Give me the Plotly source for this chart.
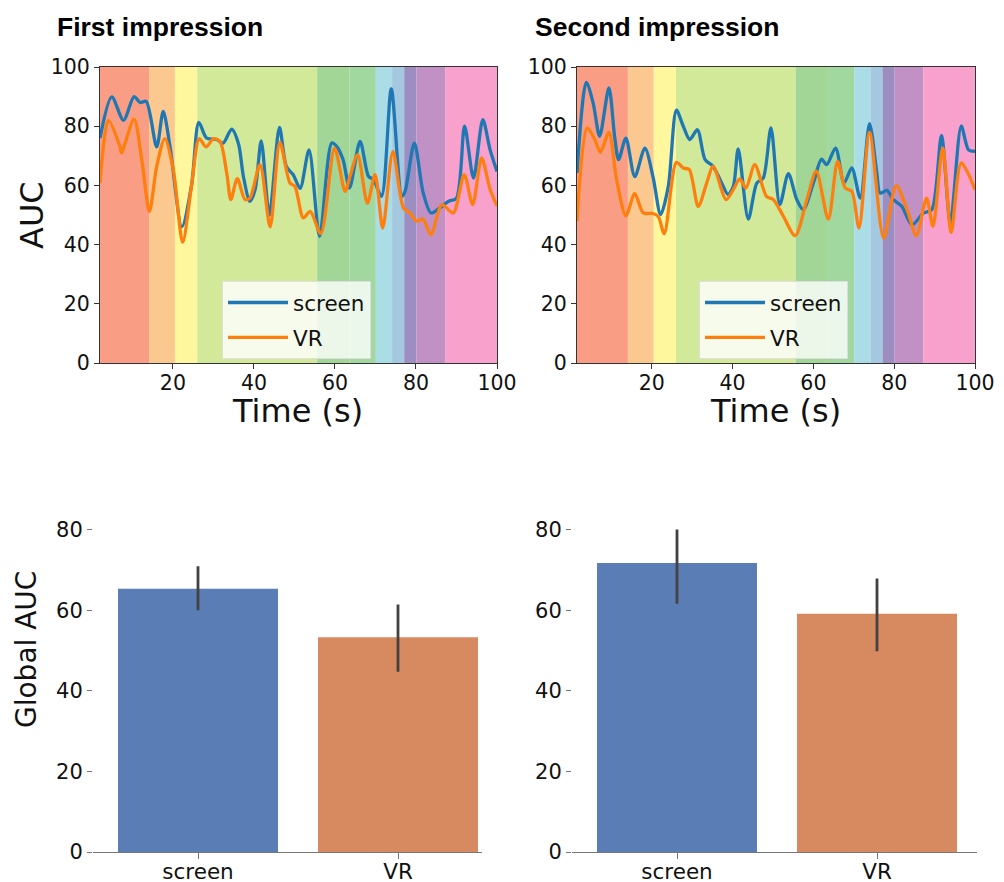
import plotly.graph_objects as go

# ---------------- data ----------------
t1_screen = [2, 4.9, 7.8, 10.4, 11.9, 13.4, 16, 17.6, 19.3, 22.2, 24.6, 26.4, 28.3, 30.8, 32.4, 34.5, 36.2, 37.4, 39, 40.3, 41.8, 43.8, 46.3, 48, 49.7, 51.4, 53.6, 56.2, 59.2, 60.4, 62, 63.6, 66.2, 68.3, 69.5, 71.5, 73.9, 76.5, 77.3, 79.6, 81.8, 83.7, 85.9, 88, 90, 92, 94.2, 96.5, 98.3, 100]
v1_screen = [76, 89.9, 82, 90, 88, 88.4, 73, 85, 73, 46, 60, 81.3, 76, 75.5, 74.3, 79, 74, 63, 54.6, 58.6, 75, 50, 79.6, 66.4, 63.6, 59, 72, 42.8, 74.3, 73.2, 68.7, 59.1, 74.9, 63, 62, 56.3, 92.6, 56.3, 58, 74.3, 57.4, 50.7, 52.4, 54.6, 55.7, 80, 62.5, 82.2, 72, 64.7]
t1_vr = [2, 4.1, 6.9, 7.3, 10.4, 12.3, 14.2, 16, 18, 20.1, 22.4, 24.6, 26.5, 28.2, 30, 31.6, 33.3, 34.3, 35.9, 37.8, 39, 41.5, 44, 46.4, 48.9, 50.1, 52.2, 53.9, 56.5, 59.9, 62.5, 63.7, 65.6, 68, 69.9, 71.8, 74.3, 76.9, 78.5, 80.2, 81.7, 83.7, 86.4, 89.2, 91.9, 94, 96.2, 98.3, 100]
v1_vr = [60.8, 81.9, 73.2, 71, 82.4, 68.7, 51.2, 66.4, 75.8, 65.3, 40.8, 60, 75.8, 73, 75.8, 74.9, 64, 55.2, 62.3, 55.2, 55.7, 67, 46, 74.5, 60.8, 59.7, 49, 51.2, 43.7, 72.6, 58, 63, 70.4, 54, 63.6, 45.6, 71.5, 52.4, 50.7, 47.9, 48.6, 43.4, 53.5, 50.7, 63.6, 53.5, 69.3, 58.6, 53]

t2_screen = [1.5, 3.8, 5.5, 7.1, 9.4, 10.8, 11.8, 13.6, 15.8, 18.3, 20.3, 22.2, 24.1, 26.1, 27.8, 29.4, 31.3, 33.2, 35.2, 37.3, 38.9, 40.2, 41.4, 43.9, 46, 47.6, 49.5, 51.7, 53.8, 55.9, 57.5, 60, 62, 63.3, 65.5, 67.6, 69.5, 71.6, 73.9, 75.7, 76.5, 78.2, 79.8, 81.9, 84.4, 87.3, 89.3, 91.7, 93.9, 96.6, 98.4, 100]
v2_screen = [64.2, 94.8, 87.8, 76.6, 92.9, 76.6, 68.7, 76, 63, 72.6, 63, 50.1, 59.7, 85.4, 80, 75.5, 78.8, 68.7, 66.4, 60.8, 56.9, 59.7, 72.3, 48.6, 60.8, 62.5, 79.4, 53.5, 64, 55.2, 51.8, 60.8, 68.9, 67, 72.6, 60.8, 65.9, 55.7, 80.9, 64.2, 57.4, 58.3, 55.2, 52.9, 46.7, 50.7, 51.8, 76.8, 47.3, 80, 72, 71.5]
t2_vr = [1.5, 4, 5.9, 7.3, 9.4, 11.3, 13.6, 15.8, 17.9, 20.3, 21.6, 23.1, 26.1, 27.8, 29.3, 31.5, 33.6, 35.2, 38.4, 40.2, 41.8, 43.3, 45.5, 48.4, 50.1, 52.6, 55.5, 58.4, 60.7, 63.7, 66, 67.9, 69.5, 71.3, 73.9, 77.4, 80.5, 83.2, 85.5, 88, 89.6, 92, 94.1, 96.6, 100]
v2_vr = [47.9, 79.4, 75.5, 71.2, 77.9, 61.9, 49.8, 57.2, 50.7, 50.5, 49.5, 43.7, 67.8, 65.9, 65.3, 52.9, 60.8, 66.4, 55.2, 58.6, 62.2, 59.1, 67, 56.3, 55.2, 49.5, 43, 55.2, 64.8, 48.6, 68.1, 59.1, 58, 45.6, 77.9, 42.2, 59.9, 51.8, 43, 55.7, 46.2, 72.6, 44.1, 67.6, 58.6]

# scene segments (time boundaries) and their colours
segment_edges = [0, 14.1, 20.5, 26.0, 55.6, 63.6, 70.1, 74.1, 77.1, 80.1, 87.2, 100]
segment_colors = ["#F99D84", "#FBC98F", "#FEF79D", "#D1E999", "#A2D697", "#A0D8A0",
                  "#ABDDE7", "#A4C8E0", "#9D8EC2", "#C190C4", "#F7A1CC"]

conditions = ["screen", "VR"]
global_first = [65.3, 53.3]
global_first_lo = [60.0, 44.7]
global_first_hi = [70.9, 61.4]
global_second = [71.7, 59.1]
global_second_lo = [61.6, 49.8]
global_second_hi = [80.0, 67.9]

bar_colors = ["#5A7DB6", "#D78A5F"]
blue = "#1f77b4"
orange = "#ff7f0e"

W, H = 1004, 882
def px(x):
    return x / W
def py(y):
    return 1 - y / H

fig = go.Figure()

tick_font = dict(family="DejaVu Sans", size=20.5, color="#111")

# ---------------- top line plots ----------------
top = [
    ("x", "y", t1_screen, v1_screen, t1_vr, v1_vr, "legend", [2, 100]),
    ("x2", "y2", t2_screen, v2_screen, t2_vr, v2_vr, "legend2", [1.5, 100]),
]
for xa, ya, ts, vs, tv, vv, leg, xr in top:
    fig.add_trace(go.Scatter(x=ts, y=vs, mode="lines", name="screen", xaxis=xa, yaxis=ya,
                             line=dict(color=blue, width=3.3, shape="spline", smoothing=0.8),
                             legend=leg, legendgroup="a" + leg))
    fig.add_trace(go.Scatter(x=tv, y=vv, mode="lines", name="VR", xaxis=xa, yaxis=ya,
                             line=dict(color=orange, width=3.3, shape="spline", smoothing=0.8),
                             legend=leg, legendgroup="b" + leg))
    for i, c in enumerate(segment_colors):
        fig.add_shape(type="rect", xref=xa, yref=ya + " domain",
                      x0=max(segment_edges[i], xr[0]), x1=segment_edges[i + 1], y0=0, y1=1,
                      fillcolor=c, line=dict(width=0), layer="below")

axis_common_top = dict(showgrid=False, zeroline=False, showline=True, linecolor="#333",
                       linewidth=1.2, mirror=True, ticks="outside", ticklen=5, tickwidth=1.2,
                       tickcolor="#333", tickfont=tick_font, automargin=False)

fig.update_layout(
    xaxis=dict(domain=[px(100), px(497)], range=[2, 100], anchor="y", ticklabelstandoff=-4,
               tickvals=[20, 40, 60, 80, 100], **axis_common_top),
    yaxis=dict(domain=[py(363), py(67)], range=[0, 100], anchor="x",
               tickvals=[0, 20, 40, 60, 80, 100], **axis_common_top),
    xaxis2=dict(domain=[px(577), px(975)], range=[1.5, 100], anchor="y2", ticklabelstandoff=-4,
                tickvals=[20, 40, 60, 80, 100], **axis_common_top),
    yaxis2=dict(domain=[py(363), py(67)], range=[0, 100], anchor="x2",
                tickvals=[0, 20, 40, 60, 80, 100], **axis_common_top),
)

# ---------------- bottom bar plots ----------------
bars = [
    ("x3", "y3", global_first, global_first_lo, global_first_hi),
    ("x4", "y4", global_second, global_second_lo, global_second_hi),
]
for xa, ya, vals, lo, hi in bars:
    fig.add_trace(go.Bar(x=[0, 1], y=vals, xaxis=xa, yaxis=ya, width=0.8,
                         marker=dict(color=bar_colors, line=dict(width=0)),
                         error_y=dict(type="data", symmetric=False,
                                      array=[h - v for h, v in zip(hi, vals)],
                                      arrayminus=[v - l for v, l in zip(vals, lo)],
                                      color="#424242", thickness=2.8, width=0),
                         showlegend=False))

axis_common_bot_y = dict(showgrid=False, zeroline=False, showline=False, ticks="outside",
                         ticklen=5, tickwidth=1, tickcolor="#777",
                         tickfont=dict(family="DejaVu Sans", size=21, color="#111"),
                         range=[0, 84], tickvals=[0, 20, 40, 60, 80], automargin=False)
axis_common_bot_x = dict(showgrid=False, zeroline=False, showline=True, linecolor="#777",
                         linewidth=1.3, ticks="outside", ticklen=6, tickwidth=1.2,
                         tickcolor="#777", tickfont=dict(family="DejaVu Sans", size=21.5, color="#111"),
                         tickvals=[0, 1], ticktext=conditions, automargin=False,
                         ticklabelstandoff=-6)
fig.update_layout(
    xaxis3=dict(domain=[px(93), px(482)], range=[-0.525, 1.42], anchor="y3", **axis_common_bot_x),
    yaxis3=dict(domain=[py(852), py(513.5)], anchor="x3", **axis_common_bot_y),
    xaxis4=dict(domain=[px(572), px(977)], range=[-0.525, 1.5], anchor="y4", **axis_common_bot_x),
    yaxis4=dict(domain=[py(852), py(513.5)], anchor="x4", **axis_common_bot_y),
)

# ---------------- legends ----------------
leg_common = dict(bgcolor="rgba(255,255,255,0.8)", bordercolor="#ddd", borderwidth=1,
                  font=dict(family="DejaVu Sans", size=21.5, color="#111"),
                  xanchor="left", yanchor="top", itemwidth=60, tracegroupgap=4,
                  traceorder="grouped")
fig.update_layout(
    legend=dict(x=px(222), y=py(281), **leg_common),
    legend2=dict(x=px(699), y=py(281), **leg_common),
)

# ---------------- text ----------------
ann = []
ann.append(dict(text="<b>First impression</b>", x=px(55), y=py(27), xanchor="left", yanchor="middle",
                font=dict(family="Liberation Sans, Arial", size=26.5, color="#000")))
ann.append(dict(text="<b>Second impression</b>", x=px(533), y=py(27), xanchor="left", yanchor="middle",
                font=dict(family="Liberation Sans, Arial", size=26.5, color="#000")))
ann.append(dict(text="AUC", x=px(32), y=py(215), textangle=-90, xanchor="center", yanchor="middle",
                font=dict(family="DejaVu Sans", size=32, color="#111")))
ann.append(dict(text="Time (s)", x=px(297), y=py(411), xanchor="center", yanchor="middle",
                font=dict(family="DejaVu Sans", size=32, color="#111")))
ann.append(dict(text="Time (s)", x=px(775), y=py(411), xanchor="center", yanchor="middle",
                font=dict(family="DejaVu Sans", size=32, color="#111")))
ann.append(dict(text="Global AUC", x=px(26), y=py(650), textangle=-90, xanchor="center", yanchor="middle",
                font=dict(family="DejaVu Sans", size=28, color="#111")))
for a in ann:
    a.update(xref="paper", yref="paper", showarrow=False)
fig.update_layout(annotations=ann)

fig.update_layout(width=W, height=H, margin=dict(l=0, r=0, t=0, b=0, autoexpand=False),
                  plot_bgcolor="white", paper_bgcolor="white", bargap=0.2)

fig.write_html("out.html", config={"displayModeBar": False},
               post_script="document.body.style.margin='0';")
